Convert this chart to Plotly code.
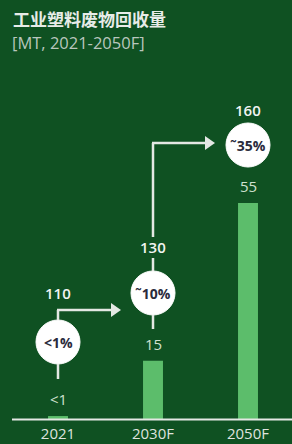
import plotly.graph_objects as go

# ---- data ----
categories = ["2021", "2030F", "2050F"]
recycled = [1, 15, 55]            # bar values (MT)
recycled_labels = ["<1", "15", "55"]
totals = [110, 130, 160]          # total industrial plastic waste (MT)
shares = ["<1%", "˜10%", "˜35%"]  # recycling share

# ---- layout constants (pixels) ----
W, H = 292, 444
MB = 24
PLOT_H = H - MB
BG = "#0f5122"
BAR = "#5cbd6b"
LINE = "#e4e8e4"
NUM_FONT = "Open Sans"

def px_x(p):
    return p / W

def px_y(p):
    return (PLOT_H - p) / PLOT_H

cat_px = [58, 153, 248]
circle_py = [342, 293, 145]
total_py = [293, 247, 110]
R = 22

fig = go.Figure()
xs = list(range(len(categories)))
fig.add_trace(go.Bar(x=xs, y=recycled, width=0.21, marker_color=BAR,
                     marker_line_width=0, hoverinfo="skip"))

shapes = []
annotations = []

# baseline
shapes.append(dict(type="line", xref="paper", yref="paper",
                   x0=px_x(12), x1=1, y0=px_y(419.5), y1=px_y(419.5),
                   line=dict(color=LINE, width=2)))

# value labels above bars
for i, lab in enumerate(recycled_labels):
    annotations.append(dict(x=xs[i], y=recycled[i], xref="x", yref="y",
                            text=lab.replace("<", "&lt;"), showarrow=False,
                            xanchor="center", yanchor="bottom",
                            yshift=5, font=dict(family=NUM_FONT, size=15,
                                                weight=500,
                                                color="#cfe0cf")))

# circles, totals, connectors
for i in range(3):
    cx, cy = cat_px[i], circle_py[i]
    shapes.append(dict(type="circle", xref="paper", yref="paper",
                       x0=px_x(cx - R), x1=px_x(cx + R),
                       y0=px_y(cy + R), y1=px_y(cy - R),
                       fillcolor="white", line=dict(color="white", width=1),
                       layer="above"))
    annotations.append(dict(x=px_x(cx), y=px_y(cy), xref="paper", yref="paper",
                            text=shares[i].replace("<", "&lt;"),
                            showarrow=False, xanchor="center", yanchor="middle",
                            font=dict(family=NUM_FONT, size=14, weight=700,
                                      color="#2a2b3c")))
    annotations.append(dict(x=px_x(cx), y=px_y(total_py[i]), xref="paper",
                            yref="paper", text=str(totals[i]), showarrow=False,
                            xanchor="center", yanchor="middle",
                            font=dict(family=NUM_FONT, size=15, weight=600,
                                      color="#f2f4f2")))

def seg(x0, y0, x1, y1):
    shapes.append(dict(type="line", xref="paper", yref="paper",
                       x0=px_x(x0), x1=px_x(x1), y0=px_y(y0), y1=px_y(y1),
                       line=dict(color=LINE, width=2.5)))

def head(xt, y):
    shapes.append(dict(type="path", xref="paper", yref="paper",
                       path=f"M {px_x(xt-10)},{px_y(y-7)} L {px_x(xt)},{px_y(y)} "
                            f"L {px_x(xt-10)},{px_y(y+7)} Z",
                       fillcolor=LINE, line=dict(color=LINE, width=0)))

# 2021 connectors
seg(58, 364, 58, 379)
seg(58, 320, 58, 310)
seg(57, 310, 112, 310)
head(121, 310)
# 2030F connectors
seg(153, 315, 153, 329)
seg(153, 271, 153, 258)
seg(153, 237, 153, 143)
seg(152, 143, 206, 143)
head(215, 143)

# titles
annotations.append(dict(x=px_x(11), y=px_y(19), xref="paper", yref="paper",
                        xanchor="left", yanchor="middle",
                        text="<b>工业塑料废物回收量</b>",
                        showarrow=False,
                        font=dict(family="Noto Sans CJK SC", size=17,
                                  color="#e8ece8")))
annotations.append(dict(x=px_x(10), y=px_y(43), xref="paper", yref="paper",
                        xanchor="left", yanchor="middle",
                        text="[MT, 2021-2050F]",
                        showarrow=False,
                        font=dict(family=NUM_FONT, size=16.5, color="#b9c6bd")))

x_lo = -cat_px[0] / 95
x_hi = x_lo + W / 95
fig.update_layout(
    width=W, height=H, margin=dict(l=0, r=0, t=0, b=MB),
    paper_bgcolor=BG, plot_bgcolor=BG, showlegend=False,
    shapes=shapes, annotations=annotations,
    xaxis=dict(range=[x_lo, x_hi], tickvals=xs, ticktext=categories,
               showgrid=False, zeroline=False, showline=False, ticks="",
               tickfont=dict(family=NUM_FONT, size=15, weight=500,
                             color="#dfe3df"),
               ticklabelstandoff=3, automargin=False, fixedrange=True),
    yaxis=dict(range=[0, 55 * PLOT_H / 217.0], visible=False,
               automargin=False, fixedrange=True),
)
fig.write_html("out.html", config={"displayModeBar": False},
               post_script="document.body.style.margin='0';"
                           "document.body.style.overflow='hidden';")
